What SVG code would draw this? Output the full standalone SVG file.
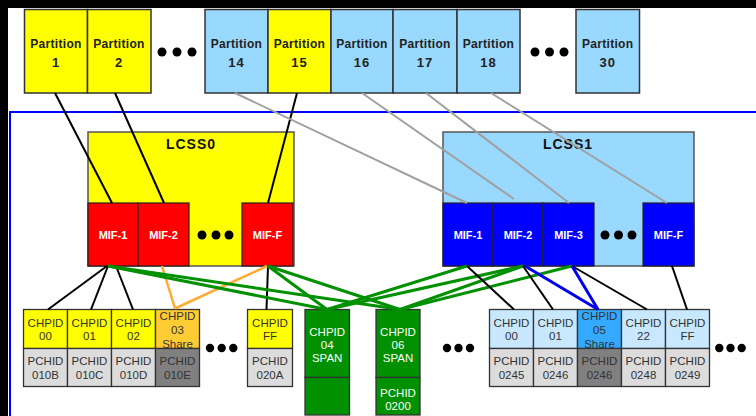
<svg xmlns="http://www.w3.org/2000/svg" width="756" height="416" viewBox="0 0 756 416">
<style>
text{font-family:"Liberation Sans",Arial,sans-serif;text-anchor:middle}
.part{stroke:#333;stroke-width:1.5}
.y{fill:#ffff00}
.lb{fill:#99d8ff}
.pt{font-size:12px;font-weight:bold;fill:#222;letter-spacing:0.3px}
.pn{font-size:13px;font-weight:bold;fill:#222;letter-spacing:1px}
.lcss{stroke:#555;stroke-width:1.5}
.lt{font-size:14px;font-weight:bold;fill:#111;letter-spacing:1px}
.mif{stroke:#222;stroke-width:1.2}
.mt{font-size:11px;font-weight:bold;fill:#fff}
.box{stroke:#333;stroke-width:1.3}
.ct{font-size:11.5px;fill:#333}
.gt{font-size:11.5px;fill:#fff}
.dot{fill:#000}
.cb{stroke:#000;stroke-width:2;fill:none}
.cg{stroke:#a0a0a0;stroke-width:2;fill:none}
.cgr{stroke:#009000;stroke-width:3;fill:none}
.co{stroke:#ffaa33;stroke-width:2.5;fill:none}
.cbl{stroke:#0000ee;stroke-width:3;fill:none}
</style>
<rect x="0" y="0" width="756" height="416" fill="#000"/>
<rect x="8" y="8" width="748" height="408" fill="#fff"/>
<rect x="10" y="112" width="760" height="320" fill="none" stroke="#0000ff" stroke-width="2"/>

<g id="partition-1"><rect class="part y" x="24.5" y="9.5" width="63" height="83.5"/><text class="pt" x="56" y="48">Partition</text><text class="pn" x="56" y="67">1</text></g>
<g id="partition-2"><rect class="part y" x="87.5" y="9.5" width="63.5" height="83.5"/><text class="pt" x="119" y="48">Partition</text><text class="pn" x="119" y="67">2</text></g>
<g id="dots-top-1"><circle class="dot" cx="162" cy="52" r="4.5"/><circle class="dot" cx="177" cy="52" r="4.5"/><circle class="dot" cx="192" cy="52" r="4.5"/></g>
<g id="partition-14"><rect class="part lb" x="205" y="9.5" width="63" height="83.5"/><text class="pt" x="236.5" y="48">Partition</text><text class="pn" x="236.5" y="67">14</text></g>
<g id="partition-15"><rect class="part y" x="268" y="9.5" width="63" height="83.5"/><text class="pt" x="299.5" y="48">Partition</text><text class="pn" x="299.5" y="67">15</text></g>
<g id="partition-16"><rect class="part lb" x="331" y="9.5" width="62" height="83.5"/><text class="pt" x="362" y="48">Partition</text><text class="pn" x="362" y="67">16</text></g>
<g id="partition-17"><rect class="part lb" x="393" y="9.5" width="64" height="83.5"/><text class="pt" x="425" y="48">Partition</text><text class="pn" x="425" y="67">17</text></g>
<g id="partition-18"><rect class="part lb" x="457" y="9.5" width="63" height="83.5"/><text class="pt" x="488.5" y="48">Partition</text><text class="pn" x="488.5" y="67">18</text></g>
<g id="dots-top-2"><circle class="dot" cx="535" cy="52" r="4.5"/><circle class="dot" cx="549.5" cy="52" r="4.5"/><circle class="dot" cx="564" cy="52" r="4.5"/></g>
<g id="partition-30"><rect class="part lb" x="576" y="9.5" width="63.5" height="83.5"/><text class="pt" x="607.7" y="48">Partition</text><text class="pn" x="607.7" y="67">30</text></g>

<g id="lcss0">
<rect class="lcss y" x="88" y="132" width="206" height="134"/>
<text class="lt" x="191" y="149">LCSS0</text>
<circle class="dot" cx="202" cy="235" r="4.5"/><circle class="dot" cx="216" cy="235" r="4.5"/><circle class="dot" cx="229" cy="235" r="4.5"/>
</g>
<g id="lcss0-mif-1"><rect class="mif" fill="#ff0000" x="88" y="203" width="50" height="63"/><text class="mt" x="113" y="239">MIF-1</text></g>
<g id="lcss0-mif-2"><rect class="mif" fill="#ff0000" x="138" y="203" width="51" height="63"/><text class="mt" x="163.5" y="239">MIF-2</text></g>
<g id="lcss0-mif-f"><rect class="mif" fill="#ff0000" x="242" y="203" width="51" height="63"/><text class="mt" x="267.5" y="239">MIF-F</text></g>

<g id="lcss1">
<rect class="lcss lb" x="443" y="132" width="251" height="134"/>
<text class="lt" x="568" y="149">LCSS1</text>
<circle class="dot" cx="605" cy="235" r="4.5"/><circle class="dot" cx="618.5" cy="235" r="4.5"/><circle class="dot" cx="632" cy="235" r="4.5"/>
</g>
<g id="lcss1-mif-1"><rect class="mif" fill="#0000ff" x="443" y="203" width="50" height="63"/><text class="mt" x="468" y="239">MIF-1</text></g>
<g id="lcss1-mif-2"><rect class="mif" fill="#0000ff" x="493" y="203" width="50" height="63"/><text class="mt" x="518" y="239">MIF-2</text></g>
<g id="lcss1-mif-3"><rect class="mif" fill="#0000ff" x="543" y="203" width="51" height="63"/><text class="mt" x="568.5" y="239">MIF-3</text></g>
<g id="lcss1-mif-f"><rect class="mif" fill="#0000ff" x="643" y="203" width="51" height="63"/><text class="mt" x="668.5" y="239">MIF-F</text></g>

<g id="chpid-0-00"><rect class="box" fill="#ffff00" x="23.5" y="309.5" width="44" height="39"/><text class="ct" x="45.5" y="327">CHPID</text><text class="ct" x="45.5" y="340">00</text><rect class="box" fill="#dcdcdc" x="23.5" y="348.5" width="44" height="38"/><text class="ct" x="45.5" y="365">PCHID</text><text class="ct" x="45.5" y="378.5">010B</text></g>
<g id="chpid-0-01"><rect class="box" fill="#ffff00" x="67.5" y="309.5" width="44" height="39"/><text class="ct" x="89.5" y="327">CHPID</text><text class="ct" x="89.5" y="340">01</text><rect class="box" fill="#dcdcdc" x="67.5" y="348.5" width="44" height="38"/><text class="ct" x="89.5" y="365">PCHID</text><text class="ct" x="89.5" y="378.5">010C</text></g>
<g id="chpid-0-02"><rect class="box" fill="#ffff00" x="111.5" y="309.5" width="44" height="39"/><text class="ct" x="133.5" y="327">CHPID</text><text class="ct" x="133.5" y="340">02</text><rect class="box" fill="#dcdcdc" x="111.5" y="348.5" width="44" height="38"/><text class="ct" x="133.5" y="365">PCHID</text><text class="ct" x="133.5" y="378.5">010D</text></g>
<g id="chpid-0-03"><rect class="box" fill="#ffcc33" x="155.5" y="309.5" width="44" height="39"/><text class="ct" x="177.5" y="320">CHPID</text><text class="ct" x="177.5" y="334">03</text><text class="ct" x="177.5" y="348">Share</text><rect class="box" fill="#808080" x="155.5" y="348.5" width="44" height="38"/><text class="ct" x="177.5" y="365">PCHID</text><text class="ct" x="177.5" y="378.5">010E</text></g>
<g id="dots-chpid-0"><circle class="dot" cx="210" cy="348" r="4.2"/><circle class="dot" cx="221.7" cy="348" r="4.2"/><circle class="dot" cx="233.3" cy="348" r="4.2"/></g>
<g id="chpid-0-ff"><rect class="box" fill="#ffff00" x="247.5" y="309.5" width="45" height="39"/><text class="ct" x="270" y="327">CHPID</text><text class="ct" x="270" y="340">FF</text><rect class="box" fill="#dcdcdc" x="247.5" y="348.5" width="45" height="38"/><text class="ct" x="270" y="365">PCHID</text><text class="ct" x="270" y="378.5">020A</text></g>

<g id="chpid-04-span"><rect class="box" fill="#009000" x="305" y="309.5" width="44.5" height="68"/><text class="gt" x="327.2" y="336">CHPID</text><text class="gt" x="327.2" y="349">04</text><text class="gt" x="327.2" y="362">SPAN</text><rect class="box" fill="#009000" x="305" y="377.5" width="44.5" height="37.5"/></g>
<g id="chpid-06-span"><rect class="box" fill="#009000" x="376" y="309.5" width="44" height="68"/><text class="gt" x="398" y="336">CHPID</text><text class="gt" x="398" y="349">06</text><text class="gt" x="398" y="362">SPAN</text><rect class="box" fill="#009000" x="376" y="377.5" width="44" height="37.5"/><text class="gt" x="398" y="396.5">PCHID</text><text class="gt" x="398" y="410">0200</text></g>

<g id="dots-chpid-1"><circle class="dot" cx="447" cy="348" r="4.2"/><circle class="dot" cx="458.5" cy="348" r="4.2"/><circle class="dot" cx="470" cy="348" r="4.2"/></g>
<g id="chpid-1-00"><rect class="box" fill="#c8e8ff" x="489.5" y="309.5" width="44" height="39"/><text class="ct" x="511.5" y="327">CHPID</text><text class="ct" x="511.5" y="340">00</text><rect class="box" fill="#dcdcdc" x="489.5" y="348.5" width="44" height="38"/><text class="ct" x="511.5" y="365">PCHID</text><text class="ct" x="511.5" y="378.5">0245</text></g>
<g id="chpid-1-01"><rect class="box" fill="#c8e8ff" x="533.5" y="309.5" width="44" height="39"/><text class="ct" x="555.5" y="327">CHPID</text><text class="ct" x="555.5" y="340">01</text><rect class="box" fill="#dcdcdc" x="533.5" y="348.5" width="44" height="38"/><text class="ct" x="555.5" y="365">PCHID</text><text class="ct" x="555.5" y="378.5">0246</text></g>
<g id="chpid-1-05"><rect class="box" fill="#33aaff" x="577.5" y="309.5" width="44" height="39"/><text class="ct" x="599.5" y="320">CHPID</text><text class="ct" x="599.5" y="334">05</text><text class="ct" x="599.5" y="348">Share</text><rect class="box" fill="#808080" x="577.5" y="348.5" width="44" height="38"/><text class="ct" x="599.5" y="365">PCHID</text><text class="ct" x="599.5" y="378.5">0246</text></g>
<g id="chpid-1-22"><rect class="box" fill="#c8e8ff" x="621.5" y="309.5" width="44" height="39"/><text class="ct" x="643.5" y="327">CHPID</text><text class="ct" x="643.5" y="340">22</text><rect class="box" fill="#dcdcdc" x="621.5" y="348.5" width="44" height="38"/><text class="ct" x="643.5" y="365">PCHID</text><text class="ct" x="643.5" y="378.5">0248</text></g>
<g id="chpid-1-ff"><rect class="box" fill="#c8e8ff" x="665.5" y="309.5" width="44" height="39"/><text class="ct" x="687.5" y="327">CHPID</text><text class="ct" x="687.5" y="340">FF</text><rect class="box" fill="#dcdcdc" x="665.5" y="348.5" width="44" height="38"/><text class="ct" x="687.5" y="365">PCHID</text><text class="ct" x="687.5" y="378.5">0249</text></g>
<g id="dots-chpid-2"><circle class="dot" cx="719.3" cy="348" r="4.2"/><circle class="dot" cx="730.5" cy="348" r="4.2"/><circle class="dot" cx="741.7" cy="348" r="4.2"/></g>

<g id="connectors">
<line class="cb" x1="55" y1="93" x2="112" y2="203"/>
<line class="cb" x1="115" y1="93" x2="164" y2="203"/>
<line class="cb" x1="297" y1="93" x2="268" y2="203"/>
<line class="cg" x1="235" y1="93" x2="467" y2="203"/>
<line class="cg" x1="362" y1="93" x2="514" y2="199"/>
<line class="cg" x1="426" y1="93" x2="569" y2="203"/>
<line class="cg" x1="491" y1="93" x2="667" y2="203"/>
<line class="cb" x1="107" y1="266" x2="48" y2="309.5"/>
<line class="cb" x1="108" y1="266" x2="91" y2="309.5"/>
<line class="cb" x1="116" y1="266" x2="133" y2="309.5"/>
<line class="cb" x1="268" y1="266" x2="266.5" y2="309.5"/>
<line class="co" x1="162" y1="266" x2="175" y2="308.5"/>
<line class="co" x1="267" y1="266" x2="175" y2="308.5"/>
<line class="cgr" x1="108" y1="266" x2="327" y2="309.5"/>
<line class="cgr" x1="108" y1="266" x2="400" y2="309.5"/>
<line class="cgr" x1="268" y1="266" x2="327" y2="309.5"/>
<line class="cgr" x1="268" y1="266" x2="400" y2="309.5"/>
<line class="cgr" x1="467" y1="266" x2="327" y2="309.5"/>
<line class="cgr" x1="523" y1="266" x2="327" y2="309.5"/>
<line class="cgr" x1="523" y1="266" x2="400" y2="309.5"/>
<line class="cgr" x1="572" y1="266" x2="400" y2="309.5"/>
<line class="cb" x1="467" y1="266" x2="514" y2="309.5"/>
<line class="cb" x1="523" y1="266" x2="553" y2="309.5"/>
<line class="cb" x1="572" y1="266" x2="647" y2="309.5"/>
<line class="cb" x1="672" y1="266" x2="687" y2="309.5"/>
<line class="cbl" x1="525" y1="266" x2="598" y2="309.5"/>
<line class="cbl" x1="572" y1="266" x2="598" y2="309.5"/>
</g>
</svg>
